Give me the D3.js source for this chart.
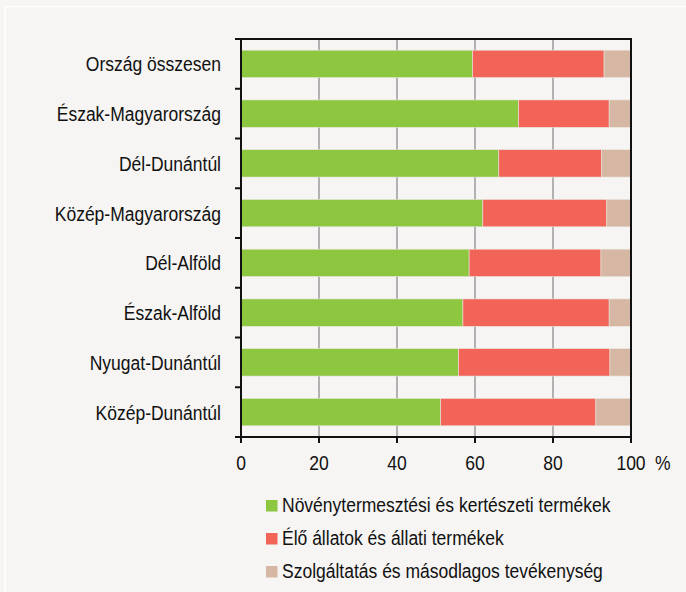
<!DOCTYPE html>
<html><head><meta charset="utf-8">
<script src="https://cdn.jsdelivr.net/npm/d3@7"></script>
<style>html,body{margin:0;padding:0;background:#f6f5f3;}svg{display:block;}</style>
</head><body><div id="c"></div>
<script>
const categories = ["Ország összesen","Észak-Magyarország","Dél-Dunántúl","Közép-Magyarország","Dél-Alföld","Észak-Alföld","Nyugat-Dunántúl","Közép-Dunántúl"];
const crops = [59.4, 71.2, 66.1, 62.0, 58.5, 56.9, 55.8, 51.2];
const animals = [33.7, 23.2, 26.3, 31.8, 33.8, 37.5, 38.8, 39.8];
const services = [6.9, 5.6, 7.6, 6.2, 7.7, 5.6, 5.4, 9.0];
const seriesNames = ["Növénytermesztési és kertészeti termékek","Élő állatok és állati termékek","Szolgáltatás és másodlagos tevékenység"];
const seriesColors = ["#8dc63f","#f26457","#d6b7a3"];
const xTicks = [0,20,40,60,80,100];

const W=686,H=592;
const svg=d3.select("#c").append("svg").attr("width",W).attr("height",H);
svg.append("rect").attr("width",W).attr("height",H).attr("fill","#f6f5f3");
svg.append("rect").attr("x",5).attr("y",6.5).attr("width",W+10).attr("height",H+10)
  .attr("fill","none").attr("stroke","#ffffff").attr("stroke-width",1.5);

const L=241,R=631,T=39,B=437;
const x=d3.scaleLinear().domain([0,100]).range([L,R]);
const y=d3.scaleBand().domain(categories).range([T,B]).paddingInner(0.45).paddingOuter(0.225);
const yb=d3.scaleBand().domain(categories).range([T,B]);

const FONT="'Liberation Sans', Arial, sans-serif";
const FS=20, SX=0.875;

// gridlines
svg.append("g").selectAll("line").data(xTicks.filter(d=>d>0&&d<100)).join("line")
  .attr("x1",d=>x(d)).attr("x2",d=>x(d)).attr("y1",T).attr("y2",B)
  .attr("stroke","#9b9b9f").attr("stroke-width",1.5);

// stacked data
const rows=categories.map((c,i)=>({cat:c,v:[crops[i],animals[i],services[i]]}));
const g=svg.append("g");
rows.forEach(r=>{
  let acc=0;
  r.v.forEach((v,k)=>{
    g.append("rect").attr("x",x(acc)).attr("y",y(r.cat)).attr("width",x(acc+v)-x(acc)).attr("height",y.bandwidth())
      .attr("fill",seriesColors[k]).attr("stroke","#e8e4dc").attr("stroke-width",0.6);
    acc+=v;
  });
});

// frame
svg.append("rect").attr("x",L).attr("y",T).attr("width",R-L).attr("height",B-T)
  .attr("fill","none").attr("stroke","#111").attr("stroke-width",2);

// left ticks at band boundaries
const yEdges=categories.map(c=>yb(c)).concat([B]);
svg.append("g").selectAll("line").data(yEdges).join("line")
  .attr("x1",L-6).attr("x2",L).attr("y1",d=>d).attr("y2",d=>d)
  .attr("stroke","#111").attr("stroke-width",2);
// bottom ticks
svg.append("g").selectAll("line").data(xTicks).join("line")
  .attr("x1",d=>x(d)).attr("x2",d=>x(d)).attr("y1",B).attr("y2",B+6)
  .attr("stroke","#111").attr("stroke-width",2);

function txt(sel,xx,yy,s,anchor){
  return sel.append("text").attr("transform",`translate(${xx},${yy}) scale(${SX},1)`)
    .attr("text-anchor",anchor).attr("font-family",FONT).attr("font-size",FS).attr("fill","#111").text(s);
}
// category labels
categories.forEach(c=>txt(svg,221,yb(c)+yb.bandwidth()/2+7.5,c,"end"));
// x tick labels
xTicks.forEach(t=>txt(svg,x(t),469.5,String(t),"middle"));
txt(svg,655,469.5,"%","start");

// legend
seriesNames.forEach((n,i)=>{
  const yy=500+i*33;
  svg.append("rect").attr("x",266).attr("y",yy).attr("width",11.5).attr("height",11.5).attr("fill",seriesColors[i]);
  txt(svg,282,yy+11.7,n,"start");
});
</script></body></html>
